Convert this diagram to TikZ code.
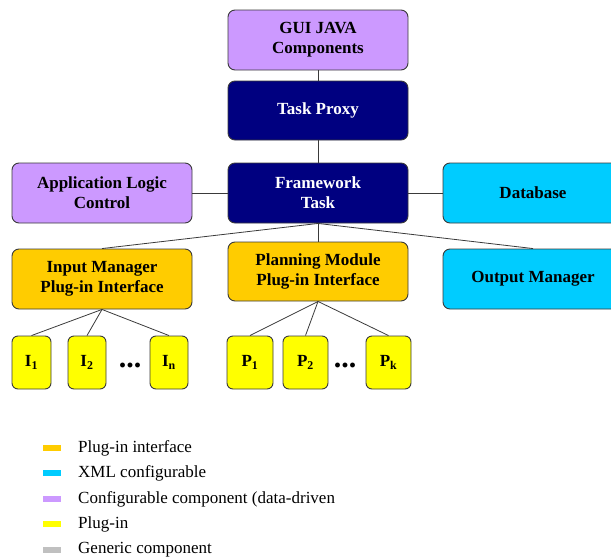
\documentclass[tikz,border=0pt]{standalone}
\usepackage{fontspec}
\setmainfont{Liberation Serif}
\usepackage{tikz}
\usetikzlibrary{arrows.meta,shapes}
\definecolor{lavender}{HTML}{CC99FF}
\definecolor{darknavy}{HTML}{000080}
\definecolor{skycyan}{HTML}{00CCFF}
\definecolor{plugorange}{HTML}{FFCC00}
\definecolor{plugyellow}{HTML}{FFFF00}
\definecolor{genericgray}{HTML}{C0C0C0}
\definecolor{edgegray}{HTML}{3A3A3A}
\begin{document}
\begin{tikzpicture}[x=1pt,y=-1pt,
box/.style={draw=edgegray,line width=0.9pt,rounded corners=7pt,minimum width=180pt,minimum height=60pt,align=center,inner sep=0pt,font=\fontsize{17}{20}\selectfont\bfseries},
plugbox/.style={draw=edgegray,line width=0.9pt,rounded corners=6pt,fill=plugyellow,minimum height=53pt,inner sep=0pt,font=\fontsize{17}{20}\selectfont\bfseries},
dotsmark/.style={anchor=base,inner sep=0pt,font=\fontsize{30}{30}\selectfont\bfseries},
link/.style={draw=edgegray,line width=0.8pt},
swatch/.style={minimum width=18pt,minimum height=6pt,inner sep=0pt},
legtext/.style={anchor=west,inner sep=0pt,font=\fontsize{17}{20}\selectfont}]
\path[use as bounding box,clip](0,0)rectangle(611,560);
% main boxes
\node[box,fill=lavender](gui)at(318,40){GUI JAVA\\Components};
\node[box,fill=darknavy,text=white,minimum height=59pt](proxy)at(318,110.5){Task Proxy};
\node[box,fill=darknavy,text=white](frame)at(318,193){Framework\\Task};
\node[box,fill=lavender](app)at(102,193){Application Logic\\Control};
\node[box,fill=skycyan](db)at(533,193){Database};
\node[box,fill=plugorange](inmgr)at(102,279){Input Manager\\Plug-in Interface};
\node[box,fill=plugorange,minimum height=59pt](plan)at(318,271.5){Planning Module\\Plug-in Interface};
\node[box,fill=skycyan](outmgr)at(533,279){Output Manager};
% plug-ins
\node[plugbox,minimum width=39pt](i1)at(31.5,362.5){I\textsubscript{1}};
\node[plugbox,minimum width=38pt](i2)at(87,362.5){I\textsubscript{2}};
\node[plugbox,minimum width=38pt](in)at(169,362.5){I\textsubscript{n}};
\node[dotsmark](idots)at(130,367){...};
\node[plugbox,minimum width=46pt](p1)at(250,362.5){P\textsubscript{1}};
\node[plugbox,minimum width=45pt](p2)at(305.5,362.5){P\textsubscript{2}};
\node[plugbox,minimum width=45pt](pk)at(388.5,362.5){P\textsubscript{k}};
\node[dotsmark](pdots)at(345,367){...};
% connectors
\draw[link](gui.south)--(proxy.north);
\draw[link](proxy.south)--(frame.north);
\draw[link](frame.west)--(app.east);
\draw[link](frame.east)--(db.west);
\draw[link](frame.south)--(inmgr.north);
\draw[link](frame.south)--(plan.north);
\draw[link](frame.south)--(outmgr.north);
\foreach \k in {i1,i2,in}
  \draw[link](inmgr.south)--(\k.north);
\foreach \k in {p1,p2,pk}
  \draw[link](plan.south)--(\k.north);
% legend
\foreach \c/\t/\y/\n in {plugorange/Plug-in interface/448/a,skycyan/XML configurable/473/b,lavender/Configurable component (data-driven/499/c,plugyellow/Plug-in/524/d,genericgray/Generic component/550/e}{
  \node[swatch,fill=\c](sw\n)at(52,\y){};
  \node[legtext](lg\n)at(78,\y){\t};
}
\end{tikzpicture}
\end{document}
